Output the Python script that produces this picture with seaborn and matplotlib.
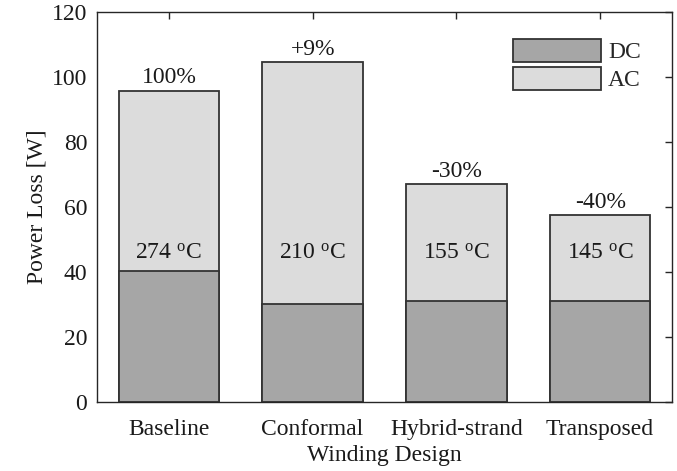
import matplotlib
matplotlib.use("Agg")
import matplotlib.pyplot as plt
import seaborn as sns
import pandas as pd
from matplotlib.patches import Patch

designs = ["Baseline", "Conformal", "Hybrid-strand", "Transposed"]
dc_loss = [40.2, 30.3, 31.2, 31.2]
total_loss = [95.8, 104.5, 67.0, 57.5]
pct_labels = ["100%", "+9%", "-30%", "-40%"]
temps = ["274", "210", "155", "145"]

sns.set_theme(style="white")
plt.rcParams["font.family"] = ["Liberation Serif", "DejaVu Serif"]
plt.rcParams["mathtext.fontset"] = "custom"
plt.rcParams["mathtext.rm"] = "Liberation Serif"
plt.rcParams["mathtext.it"] = "Liberation Serif:italic"

df = pd.DataFrame({"design": designs, "dc": dc_loss, "total": total_loss})

fig = plt.figure(figsize=(6.77, 4.71), dpi=100)
ax = fig.add_axes([97/677, 1 - 402/471, 575/677, 390/471])

edge = "#333333"
fs = 17
sns.barplot(data=df, x="design", y="total", color="#dcdcdc", saturation=1,
            width=0.7, edgecolor=edge, linewidth=1.3, ax=ax)
sns.barplot(data=df, x="design", y="dc", color="#a6a6a6", saturation=1,
            width=0.7, edgecolor=edge, linewidth=1.3, ax=ax)

for i in range(len(designs)):
    ax.text(i, total_loss[i] + 0.8, pct_labels[i], ha="center", va="bottom",
            fontsize=fs, color="#1a1a1a")
    ax.text(i, 45.8, temps[i] + r" $^{\mathrm{o}}$C", ha="center", va="center",
            fontsize=fs, color="#1a1a1a")

ax.set_xlim(-0.5, 3.5)
ax.set_ylim(0, 120)
ax.set_yticks(range(0, 121, 20))
ax.set_xlabel("Winding Design", fontsize=fs, color="#1a1a1a", labelpad=4)
ax.set_ylabel("Power Loss [W]", fontsize=fs, color="#1a1a1a", labelpad=3)
ax.tick_params(axis="both", which="both", direction="in", length=5, width=1,
               top=True, right=True, labelsize=fs, colors="#262626",
               labelcolor="#1a1a1a")
ax.tick_params(axis="x", pad=12)
ax.tick_params(axis="y", pad=7)
for s in ax.spines.values():
    s.set_color("#262626")
    s.set_linewidth(1)

handles = [Patch(facecolor="#a6a6a6", edgecolor=edge, linewidth=1.3, label="DC"),
           Patch(facecolor="#dcdcdc", edgecolor=edge, linewidth=1.3, label="AC")]
ax.legend(handles=handles, loc="upper left", frameon=False, fontsize=fs,
          handlelength=3.73, handleheight=1.1, handletextpad=0.3,
          labelspacing=0.15, borderpad=0, borderaxespad=0,
          bbox_to_anchor=((513 - 97) / 575, (402 - 39) / 390))

fig.savefig("out.png", dpi=100)
